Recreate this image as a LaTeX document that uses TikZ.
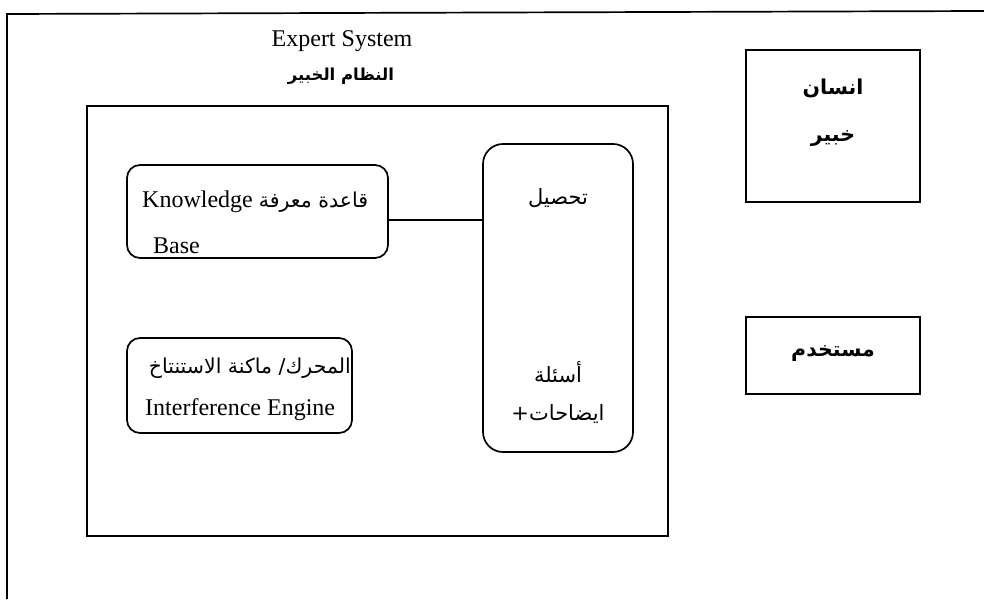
\documentclass[tikz,border=0pt]{standalone}
\usepackage{fontspec}
\setmainfont{Liberation Serif}
\newfontfamily\arabicfont[Script=Arabic]{DejaVu Sans}
\TeXXeTstate=1
\begin{document}
\begin{tikzpicture}[x=1pt,y=-1pt,
  frame/.style={draw=black,line width=1.7pt},
  box/.style={frame,rectangle,inner sep=0pt},
  rbox/.style={box,rounded corners=13pt},
  lab/.style={inner sep=0pt},
  latin/.style={lab,font=\fontsize{24}{28}\selectfont},
  arser/.style={lab,font=\arabicfont\fontsize{20.5}{24}\selectfont},
  arreg/.style={lab,font=\arabicfont\fontsize{21}{24}\selectfont},
  arbold/.style={lab,font=\arabicfont\bfseries\fontsize{20.5}{24}\selectfont}]
\useasboundingbox (0,0) rectangle (984,599);
\fill[white] (0,0) rectangle (984,599);
% outer frame (only top and left edges visible)
\coordinate (otr) at (984,11);
\coordinate (otl) at (7,14);
\coordinate (obl) at (7,599);
\draw[line width=1.7pt] (otr) -- (otl) -- (obl);
% titles
\node[latin,anchor=base] (t1) at (342,47) {Expert System};
\node[lab,font=\arabicfont\bfseries\fontsize{16.5}{20}\selectfont] (t2) at (341,76) {\beginR النظام الخبير\endR};
% big box
\node[box,minimum width=581,minimum height=430] (big) at (377.5,321) {};
% knowledge base
\node[rbox,minimum width=261,minimum height=93] (kb) at (257.5,211.5) {};
\node[latin,anchor=base west] (kb1) at (142,207) {Knowledge {\arabicfont\fontsize{20.5}{24}\selectfont\beginR قاعدة معرفة\endR}};
\node[latin,anchor=base west] (kb2) at (153,253) {Base};
% engine
\node[rbox,minimum width=225,minimum height=95] (eng) at (239.5,385.5) {};
\node[arser,anchor=east] (eng1) at (351,368) {\beginR المحرك/ ماكنة الاستنتاخ\endR};
\node[latin,anchor=base west] (eng2) at (145,415) {Interference Engine};
% tall box
\node[rbox,rounded corners=20pt,minimum width=150,minimum height=308] (tall) at (558,298) {};
\node[arreg] (tl1) at (558,198) {\beginR تحصيل\endR};
\node[arreg] (tl2) at (558,372) {\beginR أسئلة\endR};
\node[arreg] (tl3) at (558,414) {+\beginR ايضاحات\endR};
% connector
\draw[line width=1.3pt] ([yshift=-8.5pt]kb.east) -- ([yshift=-8.5pt]kb.east -| tall.west);
% expert human
\node[box,minimum width=174,minimum height=152] (hum) at (833,126) {};
\node[arbold] (h1) at (833,88) {\beginR انسان\endR};
\node[arbold] (h2) at (833,139) {\beginR خبير\endR};
% user
\node[box,minimum width=174,minimum height=77] (usr) at (833,355.5) {};
\node[arbold] (u1) at (833,354) {\beginR مستخدم\endR};
\end{tikzpicture}
\end{document}
